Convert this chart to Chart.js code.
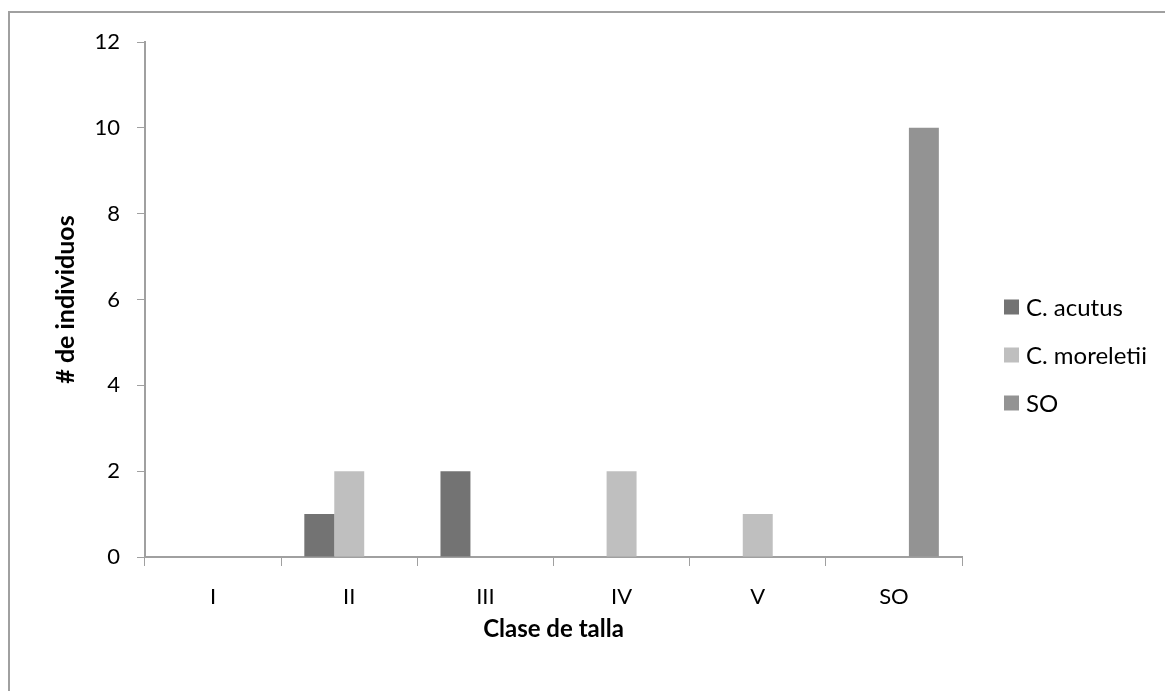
<!DOCTYPE html>
<html>
<head>
<meta charset="utf-8">
<script src="https://cdn.jsdelivr.net/npm/chart.js@4"></script>
<style>
html,body{margin:0;padding:0;background:#fff;}
#wrap{width:1165px;height:691px;position:relative;}
</style>
</head>
<body>
<div id="wrap"><canvas id="c" width="1165" height="691"></canvas></div>
<script>
const categories = ["I", "II", "III", "IV", "V", "SO"];
const seriesNames = ["C. acutus", "C. moreletii", "SO"];
const acutus = [0, 1, 2, 0, 0, 0];
const moreletii = [0, 2, 0, 2, 1, 0];
const so = [0, 0, 0, 0, 0, 10];
const seriesColors = ["#737373", "#bfbfbf", "#939393"];
const yTicks = [0, 2, 4, 6, 8, 10, 12];
const xTitle = "Clase de talla";
const yTitle = "# de individuos";

const FONT = "Lato, 'Open Sans', sans-serif";

const frame = {
  id: 'frame',
  beforeDraw(chart) {
    const ctx = chart.ctx;
    ctx.save();
    ctx.fillStyle = '#fff';
    ctx.fillRect(0, 0, chart.width, chart.height);
    ctx.strokeStyle = '#a0a0a0';
    ctx.lineWidth = 2;
    ctx.beginPath();
    ctx.moveTo(9, chart.height);
    ctx.lineTo(9, 12);
    ctx.lineTo(chart.width, 12);
    ctx.stroke();
    ctx.restore();
  }
};

const customLegend = {
  id: 'customLegend',
  afterDraw(chart) {
    const ctx = chart.ctx;
    ctx.save();
    ctx.font = "24px " + FONT;
    ctx.textBaseline = 'middle';
    ctx.textAlign = 'left';
    chart.data.datasets.forEach((ds, i) => {
      const cy = 307 + i * 48;
      ctx.fillStyle = ds.backgroundColor;
      ctx.fillRect(1004, cy - 7.5, 15, 15);
      ctx.fillStyle = '#000';
      ctx.fillText(ds.label, 1026, cy + 1);
    });
    ctx.restore();
  }
};

new Chart(document.getElementById('c'), {
  type: 'bar',
  data: {
    labels: categories,
    datasets: [
      { label: seriesNames[0], data: acutus, backgroundColor: seriesColors[0] },
      { label: seriesNames[1], data: moreletii, backgroundColor: seriesColors[1] },
      { label: seriesNames[2], data: so, backgroundColor: seriesColors[2] }
    ]
  },
  options: {
    responsive: false,
    animation: false,
    devicePixelRatio: 1,
    layout: { padding: { left: 0, top: 42, right: 203, bottom: 0 } },
    datasets: { bar: { categoryPercentage: 0.66, barPercentage: 1.0, borderWidth: 0 } },
    plugins: {
      legend: { display: false },
      tooltip: { enabled: false }
    },
    scales: {
      x: {
        grid: { drawOnChartArea: false, drawTicks: true, tickLength: 9, color: '#a0a0a0', offset: true },
        border: { color: '#a0a0a0', width: 2 },
        ticks: { color: '#000', font: { family: FONT, size: 22 }, padding: 18 },
        title: { display: true, text: xTitle, color: '#000', font: { family: FONT, size: 24, weight: 'bold' }, padding: { top: 0, bottom: 47 } },
        afterFit(scale) { scale.height = 134; }
      },
      y: {
        min: 0, max: 12,
        afterBuildTicks(scale) { scale.ticks = yTicks.map(v => ({ value: v })); },
        grid: { drawOnChartArea: false, drawTicks: true, tickLength: 8, color: '#a0a0a0' },
        border: { color: '#a0a0a0', width: 2 },
        ticks: { color: '#000', font: { family: FONT, size: 22 }, padding: 17 },
        title: { display: true, text: yTitle, color: '#000', font: { family: FONT, size: 25, weight: 'bold' }, padding: { top: 51, bottom: 0 } },
        afterFit(scale) { scale.width = 145; }
      }
    }
  },
  plugins: [frame, customLegend]
});
</script>
</body>
</html>
